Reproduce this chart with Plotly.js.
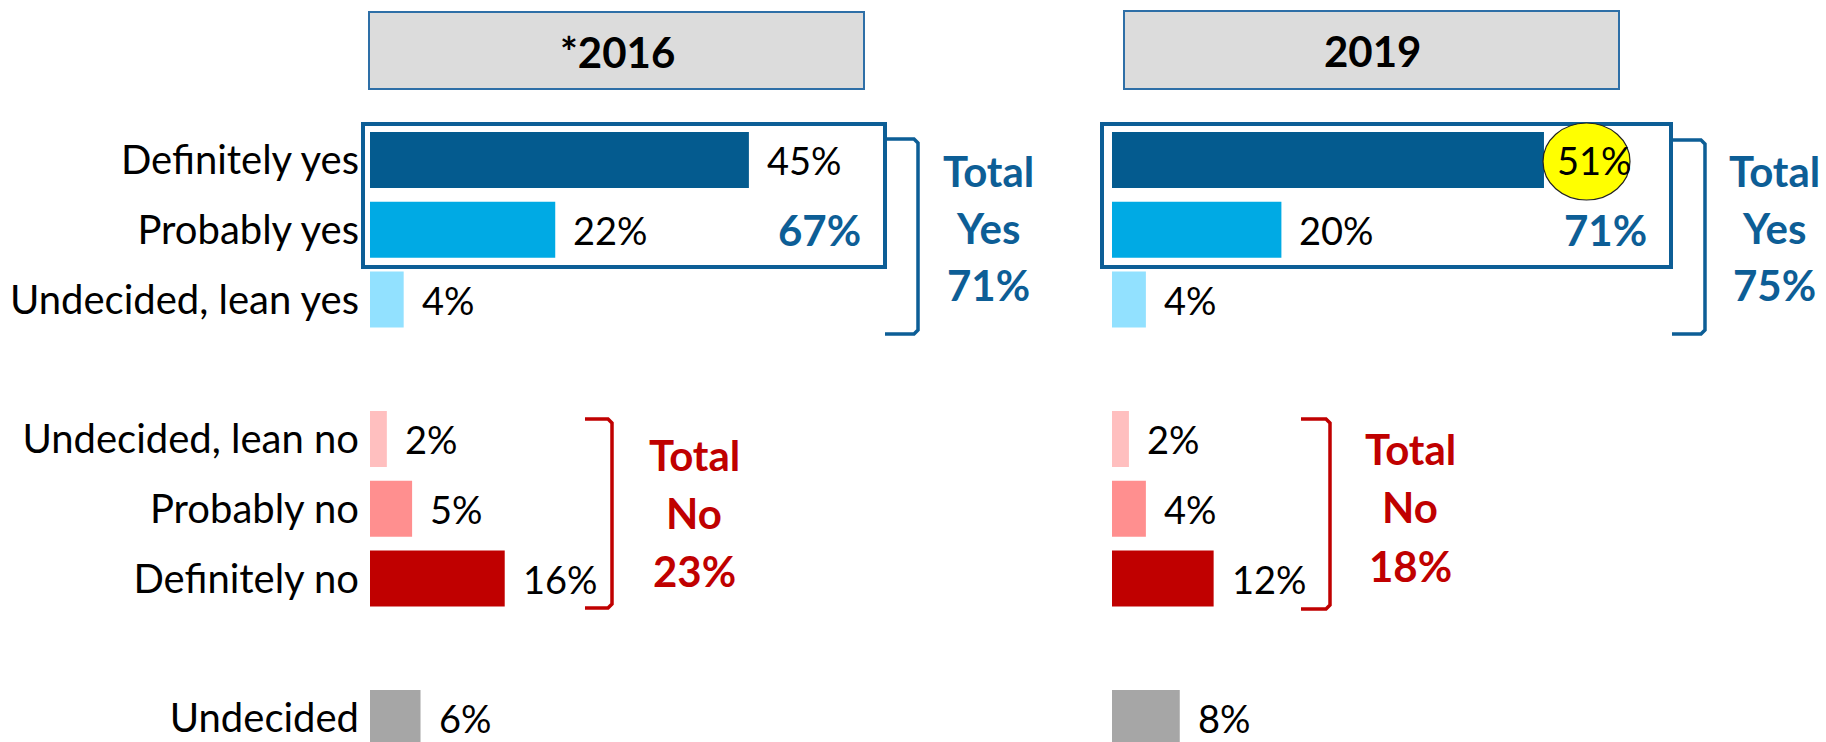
<!DOCTYPE html>
<html>
<head>
<meta charset="utf-8">
<script src="https://cdn.plot.ly/plotly-3.0.1.min.js"></script>
<style>html,body{margin:0;padding:0;background:#fff;}#chart{width:1826px;height:742px;}</style>
</head>
<body>
<div id="chart"></div>
<script>
// ---- data ----
const categories = ['Definitely yes', 'Probably yes', 'Undecided, lean yes', 'Undecided, lean no', 'Probably no', 'Definitely no', 'Undecided'];
const rows = [0, 1, 2, 4, 5, 6, 8];
const values2016 = [45, 22, 4, 2, 5, 16, 6];
const values2019 = [51, 20, 4, 2, 4, 12, 8];
const barColors = ['#045B8F', '#00AAE4', '#92E1FF', '#FFBFBF', '#FF8F8F', '#C00000', '#A6A6A6'];
const panelTitles = ['*2016', '2019'];
const yesBoxTotals = ['67%', '71%'];
const totalYesLines2016 = ['Total', 'Yes', '71%'];
const totalYesLines2019 = ['Total', 'Yes', '75%'];
const totalNoLines2016 = ['Total', 'No', '23%'];
const totalNoLines2019 = ['Total', 'No', '18%'];

// ---- layout helpers (pixels -> paper) ----
const W = 1826, H = 742;
const px = x => x / W;
const py = y => 1 - y / H;
const FONT = 'Lato, "Open Sans", sans-serif';
const BLUE = '#0D5E96';
const RED = '#C00000';
const plotTop = 125, rowTop = 160, pitch = 69.75;

function pathFrom(points) {
  return points.map((p, i) => (i ? 'L' : 'M') + px(p[0]).toFixed(5) + ',' + py(p[1]).toFixed(5)).join(' ');
}
function bracket(xOpen, xLine, yTop, yBot, color) {
  return {type: 'path', xref: 'paper', yref: 'paper', layer: 'above',
    path: pathFrom([[xOpen, yTop], [xLine - 4, yTop], [xLine, yTop + 4], [xLine, yBot - 4], [xLine - 4, yBot], [xOpen, yBot]]),
    line: {color: color, width: 3.5}};
}
function rect(x0, y0, x1, y1, fill, lineColor, lw) {
  return {type: 'rect', xref: 'paper', yref: 'paper', layer: 'below',
    x0: px(x0), x1: px(x1), y0: py(y0), y1: py(y1),
    fillcolor: fill, line: {color: lineColor, width: lw}};
}

const traces = [
  {type: 'bar', orientation: 'h', x: values2016, y: rows, width: 0.8,
   marker: {color: barColors}, xaxis: 'x', yaxis: 'y', hoverinfo: 'none'},
  {type: 'bar', orientation: 'h', x: values2019, y: rows, width: 0.8,
   marker: {color: barColors}, xaxis: 'x2', yaxis: 'y', hoverinfo: 'none'}
];

const annotations = [];
// value labels
values2016.forEach((v, i) => annotations.push({xref: 'x', yref: 'y', x: v, y: rows[i], text: v + '%',
  showarrow: false, xanchor: 'left', yanchor: 'middle', xshift: 16, font: {family: FONT, size: 38, color: '#000'}}));
values2019.forEach((v, i) => annotations.push({xref: 'x2', yref: 'y', x: v, y: rows[i], text: v + '%',
  showarrow: false, xanchor: 'left', yanchor: 'middle', xshift: i === 0 ? 11 : 16, font: {family: FONT, size: 38, color: '#000'}}));

// panel titles
[[617, 52], [1372, 51]].forEach((p, i) => annotations.push({xref: 'paper', yref: 'paper', x: px(p[0]), y: py(p[1]),
  text: '<b>' + panelTitles[i] + '</b>', showarrow: false, xanchor: 'center', yanchor: 'middle',
  font: {family: FONT, size: 42, color: '#000'}}));

// totals inside yes boxes
[[863, 230], [1649, 230]].forEach((p, i) => annotations.push({xref: 'paper', yref: 'paper', x: px(p[0]), y: py(p[1]),
  text: '<b>' + yesBoxTotals[i] + '</b>', showarrow: false, xanchor: 'right', yanchor: 'middle',
  font: {family: FONT, size: 42, color: BLUE}}));

function stack(lines, cx, ys, color) {
  lines.forEach((t, i) => annotations.push({xref: 'paper', yref: 'paper', x: px(cx), y: py(ys[i]),
    text: '<b>' + t + '</b>', showarrow: false, xanchor: 'center', yanchor: 'middle',
    font: {family: FONT, size: 42, color: color}}));
}
stack(totalYesLines2016, 988, [171, 228, 285], BLUE);
stack(totalYesLines2019, 1774, [171, 228, 285], BLUE);
stack(totalNoLines2016, 694, [455, 513, 571], RED);
stack(totalNoLines2019, 1410, [449, 507, 566], RED);

const shapes = [
  rect(369, 12, 864, 89, '#DCDCDC', '#2E6FA7', 2),
  rect(1124, 11, 1619, 89, '#DCDCDC', '#2E6FA7', 2),
  Object.assign(rect(363, 124, 885, 267, 'rgba(0,0,0,0)', BLUE, 4), {layer: 'above'}),
  Object.assign(rect(1102, 124, 1671, 267, 'rgba(0,0,0,0)', BLUE, 4), {layer: 'above'}),
  {type: 'circle', xref: 'paper', yref: 'paper', layer: 'above',
   x0: px(1543), x1: px(1630), y0: py(123), y1: py(200), fillcolor: '#FFFF00', line: {color: '#222', width: 1.2}},
  bracket(885, 918, 139, 334, BLUE),
  bracket(1672, 1705, 140, 334, BLUE),
  bracket(585, 612, 419, 608, RED),
  bracket(1301, 1330, 419, 609, RED)
];

const layout = {
  width: W, height: H,
  margin: {l: 0, r: 0, t: 0, b: 0},
  paper_bgcolor: '#fff', plot_bgcolor: 'rgba(0,0,0,0)',
  showlegend: false, barmode: 'overlay',
  font: {family: FONT, color: '#000'},
  xaxis: {domain: [px(370), px(370 + 60 * 8.42)], range: [0, 60], visible: false, anchor: 'y', fixedrange: true},
  xaxis2: {domain: [px(1112), px(1112 + 60 * 8.47)], range: [0, 60], visible: false, anchor: 'y', fixedrange: true},
  yaxis: {domain: [0, py(plotTop)], range: [(H - rowTop) / pitch, (plotTop - rowTop) / pitch], anchor: 'x',
    tickvals: rows, ticktext: categories, ticks: '', ticklabelstandoff: 10,
    showgrid: false, zeroline: false, showline: false, fixedrange: true,
    tickfont: {family: FONT, size: 40, color: '#000'}},
  shapes: shapes,
  annotations: annotations
};

Plotly.newPlot('chart', traces, layout, {displayModeBar: false, staticPlot: true});
</script>
</body>
</html>
